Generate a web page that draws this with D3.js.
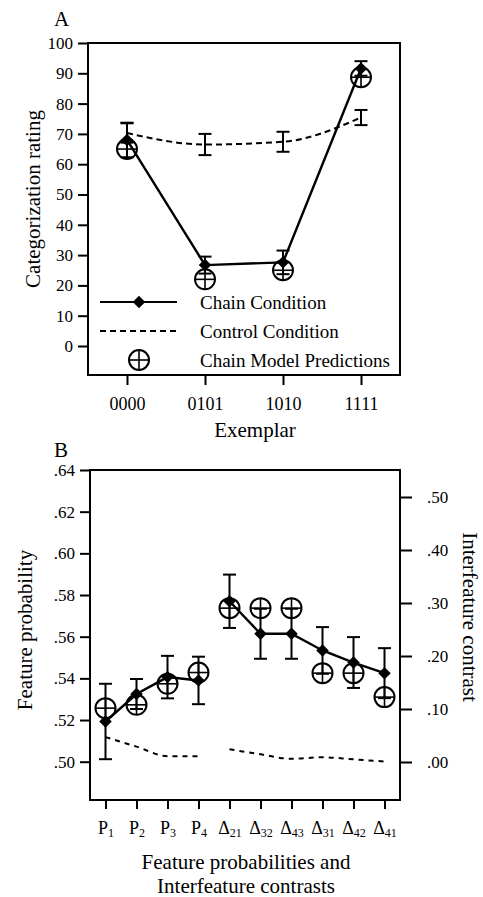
<!DOCTYPE html>
<html>
<head>
<meta charset="utf-8">
<script src="https://cdn.jsdelivr.net/npm/d3@7"></script>
<style>
  body { margin: 0; background: #fff; }
</style>
</head>
<body>
<div id="chart"></div>
<script>
// ---- Panel A data ----
const exemplars = ["0000", "0101", "1010", "1111"];
const chainMeans = [68, 26.7, 27.6, 91.6];
const chainErr = [5.7, 2.8, 3.9, 2.4];
const controlMeans = [70.3, 66.5, 67.4, 75.4];
const controlErr = [3.2, 3.5, 3.3, 2.5];
const chainModel = [65, 22, 25, 88.7];
const ratingTicks = [0, 10, 20, 30, 40, 50, 60, 70, 80, 90, 100];

// ---- Panel B data ----
const featBase = ["P", "P", "P", "P", "\u0394", "\u0394", "\u0394", "\u0394", "\u0394", "\u0394"];
const featSub = ["1", "2", "3", "4", "21", "32", "43", "31", "42", "41"];
const featMeans = [0.5193, 0.5325, 0.5406, 0.539, 0.577, 0.5614, 0.5614, 0.5534, 0.5476, 0.5425];
const featErr = [0.0181, 0.0072, 0.0102, 0.0114, 0.0128, 0.012, 0.012, 0.0112, 0.0122, 0.012];
const featModel = [0.5257, 0.5273, 0.5374, 0.5428, 0.5737, 0.5737, 0.5737, 0.5425, 0.5425, 0.531];
const contrastLine = [0.047, 0.029, 0.011, 0.011, 0.024, 0.0145, 0.006, 0.009, 0.005, 0.001];
const probTicks = [0.50, 0.52, 0.54, 0.56, 0.58, 0.60, 0.62, 0.64];
const contrastTicks = [0, 0.1, 0.2, 0.3, 0.4, 0.5];

const SERIF = "'Liberation Serif', 'DejaVu Serif', serif";
const W = 483, H = 897;
const svg = d3.select("#chart").append("svg")
    .attr("width", W)
    .attr("height", H)
    .style("font-family", SERIF);

const fmtDot = v => d3.format(".2f")(v).replace(/^0/, "");

// diamond marker (square turned 45 deg)
const diamond = d3.symbol().type(d3.symbolSquare).size(78);

function label(g, size) {
    return g.append("text")
        .style("font-family", SERIF)
        .style("font-size", size + "px")
        .attr("fill", "#000");
}

function plusCircle(g, cx, cy, r) {
    g.append("circle")
        .attr("cx", cx).attr("cy", cy).attr("r", r)
        .attr("fill", "none").attr("stroke", "#000").attr("stroke-width", 2);
    g.append("line")
        .attr("x1", cx - r).attr("x2", cx + r).attr("y1", cy).attr("y2", cy)
        .attr("stroke", "#000").attr("stroke-width", 1.6);
    g.append("line")
        .attr("x1", cx).attr("x2", cx).attr("y1", cy - r).attr("y2", cy + r)
        .attr("stroke", "#000").attr("stroke-width", 1.6);
}

function errorBar(g, x, yTop, yBot, cap) {
    g.append("line")
        .attr("x1", x).attr("x2", x).attr("y1", yTop).attr("y2", yBot)
        .attr("stroke", "#000").attr("stroke-width", 2);
    [yTop, yBot].forEach(y => {
        g.append("line")
            .attr("x1", x - cap).attr("x2", x + cap).attr("y1", y).attr("y2", y)
            .attr("stroke", "#000").attr("stroke-width", 2);
    });
}

function styleAxis(g, size) {
    g.attr("font-family", null).attr("font-size", null);
    g.select(".domain").remove();
    g.selectAll(".tick line").attr("stroke", "#000").attr("stroke-width", 2);
    g.selectAll(".tick text")
        .attr("fill", "#000")
        .style("font-family", SERIF)
        .style("font-size", size + "px");
}

// =================== Panel A ===================
const aBox = { left: 88, right: 400, top: 43, bottom: 375 };
const xA = d3.scalePoint().domain(exemplars).range([aBox.left, aBox.right]).padding(0.5);
const yA = d3.scaleLinear().domain([-9.57, 100]).range([aBox.bottom, aBox.top]);
const gA = svg.append("g");

gA.append("g")
    .attr("transform", `translate(${aBox.left},0)`)
    .call(d3.axisLeft(yA).tickValues(ratingTicks).tickSize(10).tickPadding(5))
    .call(g => styleAxis(g, 17));

gA.append("g")
    .attr("transform", `translate(0,${aBox.bottom})`)
    .call(d3.axisBottom(xA).tickSize(10).tickPadding(12))
    .call(g => styleAxis(g, 18));

gA.append("rect")
    .attr("x", aBox.left).attr("y", aBox.top)
    .attr("width", aBox.right - aBox.left).attr("height", aBox.bottom - aBox.top)
    .attr("fill", "none").attr("stroke", "#000").attr("stroke-width", 2);

// control condition (dashed curve + error bars)
gA.append("path")
    .datum(exemplars)
    .attr("d", d3.line().curve(d3.curveMonotoneX)
        .x(d => xA(d)).y((d, i) => yA(controlMeans[i])))
    .attr("fill", "none").attr("stroke", "#000").attr("stroke-width", 2)
    .attr("stroke-dasharray", "6 4");
exemplars.forEach((d, i) => {
    errorBar(gA, xA(d), yA(controlMeans[i] + controlErr[i]), yA(controlMeans[i] - controlErr[i]), 6.5);
});

// chain condition
gA.append("path")
    .datum(exemplars)
    .attr("d", d3.line().x(d => xA(d)).y((d, i) => yA(chainMeans[i])))
    .attr("fill", "none").attr("stroke", "#000").attr("stroke-width", 2.4);
exemplars.forEach((d, i) => {
    errorBar(gA, xA(d), yA(chainMeans[i] + chainErr[i]), yA(chainMeans[i] - chainErr[i]), 6.5);
});
gA.selectAll(".chainA")
    .data(exemplars)
    .enter().append("path")
    .attr("class", "chainA")
    .attr("d", diamond)
    .attr("transform", (d, i) => `translate(${xA(d)},${yA(chainMeans[i])}) rotate(45)`)
    .attr("fill", "#000");

// model predictions
exemplars.forEach((d, i) => plusCircle(gA, xA(d), yA(chainModel[i]), 10));

// legend
const legA = gA.append("g");
legA.append("line").attr("x1", 100).attr("x2", 177).attr("y1", 302).attr("y2", 302)
    .attr("stroke", "#000").attr("stroke-width", 2);
legA.append("path").attr("d", diamond).attr("transform", "translate(139,302) rotate(45)");
legA.append("line").attr("x1", 100).attr("x2", 177).attr("y1", 331).attr("y2", 331)
    .attr("stroke", "#000").attr("stroke-width", 2).attr("stroke-dasharray", "6 4");
plusCircle(legA, 139, 360, 10);
["Chain Condition", "Control Condition", "Chain Model Predictions"].forEach((t, i) => {
    label(legA, 19).attr("x", 200).attr("y", 309 + i * 29).text(t);
});

label(gA, 21).attr("x", 54).attr("y", 26).text("A");
label(gA, 21)
    .attr("transform", `translate(40,${(aBox.top + aBox.bottom) / 2 - 10}) rotate(-90)`)
    .attr("text-anchor", "middle")
    .text("Categorization rating");
label(gA, 21).attr("x", 255).attr("y", 437)
    .attr("text-anchor", "middle").text("Exemplar");

// =================== Panel B ===================
const bBox = { left: 90, right: 400, top: 470, bottom: 800 };
const idx = d3.range(featMeans.length);
const xB = d3.scalePoint().domain(idx).range([bBox.left, bBox.right]).padding(0.5);
const yB = d3.scaleLinear().domain([0.50, 0.64]).range([761.7, bBox.top]);
const yR = d3.scaleLinear().domain([0, 0.5]).range([762, 497]);
const gB = svg.append("g");

gB.append("g")
    .attr("transform", `translate(${bBox.left},0)`)
    .call(d3.axisLeft(yB).tickValues(probTicks).tickFormat(fmtDot).tickSize(10).tickPadding(5))
    .call(g => styleAxis(g, 17));

gB.append("g")
    .attr("transform", `translate(${bBox.right},0)`)
    .call(d3.axisRight(yR).tickValues(contrastTicks).tickFormat(fmtDot).tickSize(12).tickPadding(15))
    .call(g => styleAxis(g, 17));

const xAxisB = gB.append("g")
    .attr("transform", `translate(0,${bBox.bottom})`)
    .call(d3.axisBottom(xB).tickSize(9).tickPadding(12).tickFormat(""))
    .call(g => styleAxis(g, 18));
xAxisB.selectAll(".tick text").each(function (d) {
    const t = d3.select(this).text(null);
    t.append("tspan").text(featBase[d]);
    t.append("tspan").attr("dy", "0.3em").style("font-size", "12px").text(featSub[d]);
});

gB.append("rect")
    .attr("x", bBox.left).attr("y", bBox.top)
    .attr("width", bBox.right - bBox.left).attr("height", bBox.bottom - bBox.top)
    .attr("fill", "none").attr("stroke", "#000").attr("stroke-width", 2);

// dashed contrast lines, two separate runs
const dashLine = d3.line().curve(d3.curveMonotoneX)
    .x(i => xB(i)).y(i => yR(contrastLine[i]));
[[0, 1, 2, 3], [4, 5, 6, 7, 8, 9]].forEach(run => {
    gB.append("path").datum(run).attr("d", dashLine)
        .attr("fill", "none").attr("stroke", "#000").attr("stroke-width", 2)
        .attr("stroke-dasharray", "5 5");
});

// observed feature values, two separate runs
const obsLine = d3.line().x(i => xB(i)).y(i => yB(featMeans[i]));
[[0, 1, 2, 3], [4, 5, 6, 7, 8, 9]].forEach(run => {
    gB.append("path").datum(run).attr("d", obsLine)
        .attr("fill", "none").attr("stroke", "#000").attr("stroke-width", 2.4);
});
idx.forEach(i => {
    errorBar(gB, xB(i), yB(featMeans[i] + featErr[i]), yB(featMeans[i] - featErr[i]), 6.5);
});
gB.selectAll(".chainB")
    .data(idx)
    .enter().append("path")
    .attr("class", "chainB")
    .attr("d", diamond)
    .attr("transform", i => `translate(${xB(i)},${yB(featMeans[i])}) rotate(45)`)
    .attr("fill", "#000");
idx.forEach(i => plusCircle(gB, xB(i), yB(featModel[i]), 10));

label(gB, 21).attr("x", 54).attr("y", 457).text("B");
label(gB, 21)
    .attr("transform", `translate(32,630) rotate(-90)`)
    .attr("text-anchor", "middle")
    .text("Feature probability");
label(gB, 21)
    .attr("transform", `translate(463,617) rotate(90)`)
    .attr("text-anchor", "middle")
    .text("Interfeature contrast");
label(gB, 21).attr("x", 246).attr("y", 869)
    .attr("text-anchor", "middle").text("Feature probabilities and");
label(gB, 21).attr("x", 246).attr("y", 893)
    .attr("text-anchor", "middle").text("Interfeature contrasts");
</script>
</body>
</html>
